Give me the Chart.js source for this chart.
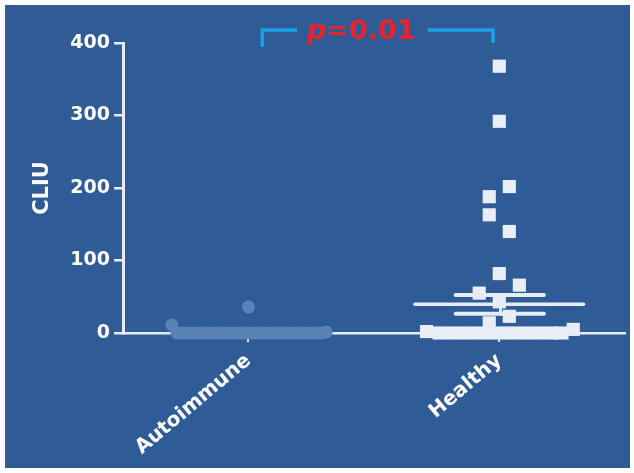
<!DOCTYPE html>
<html>
<head>
<meta charset="utf-8">
<script src="https://cdn.jsdelivr.net/npm/chart.js@4.4.1/dist/chart.umd.min.js"></script>
<style>
html,body{margin:0;padding:0;background:#fff;}
</style>
</head>
<body>
<canvas id="cliuChart" width="634" height="473"></canvas>
<script>
var categories = ['Autoimmune', 'Healthy'];
var yTicks = [0, 100, 200, 300, 400];

// Autoimmune group: CLIU values and horizontal spread inside the column
var autoValues = [11, 36,
    0, 0, 0, 0, 0, 0, 0, 0, 0, 0,
    0, 0, 0, 0, 0, 0, 0, 0, 0, 0,
    0, 0, 0, 0, 0, 0, 0, 0, 0, 0, 1.5];
var autoSpread = [-0.305, 0,
    -0.285, -0.265, -0.245, -0.225, -0.205, -0.185, -0.165, -0.145, -0.125, -0.105,
    -0.085, -0.065, -0.045, -0.025, -0.005, 0.015, 0.035, 0.055, 0.075, 0.095,
    0.115, 0.135, 0.155, 0.175, 0.195, 0.215, 0.235, 0.255, 0.275, 0.295, 0.31];

// Healthy group
var healthyValues = [368, 292, 202, 188, 163, 140, 82, 66, 55, 43, 23, 14,
    2, 0, 0, 0, 0, 0, 0, 0, 0, 0, 0, 0, 5];
var healthySpread = [0, 0, 0.04, -0.04, -0.04, 0.04, 0, 0.08, -0.08, 0, 0.04, -0.04,
    -0.29, -0.24, -0.19, -0.14, -0.09, -0.04, 0.01, 0.06, 0.11, 0.16, 0.21, 0.25, 0.295];

var healthyMean = 39.5;
var healthySem = 13;

var lineCol = '#e6ecf5';

function seg(x1, y1, x2, y2, w){
    return {
        type: 'scatter', showLine: true,
        data: [{x: x1, y: y1}, {x: x2, y: y2}],
        borderColor: lineCol, borderWidth: w, borderCapStyle: 'round',
        pointRadius: 0, clip: false
    };
}

var panelBg = {
    id: 'panelBg',
    beforeDraw: function(chart){
        var c = chart.ctx;
        c.save();
        c.fillStyle = '#ffffff';
        c.fillRect(0, 0, chart.width, chart.height);
        c.fillStyle = '#2f5c97';
        c.fillRect(5, 5, chart.width - 9, chart.height - 10);
        c.restore();
    }
};

// p value bracket above the plot
var pBracket = {
    id: 'pBracket',
    afterDraw: function(chart){
        var sx = chart.scales.x, sy = chart.scales.y, c = chart.ctx;
        var xl = sx.getPixelForValue(1.055), xr = sx.getPixelForValue(1.975);
        var yt = sy.getPixelForValue(418);
        var xm = sx.getPixelForValue(1.45);
        var yb = sy.getPixelForValue(406);
        c.save();
        c.font = 'italic bold 27px "DejaVu Sans"';
        var wp = c.measureText('p').width;
        c.font = 'bold 27px "DejaVu Sans"';
        var wr = c.measureText('=0.01').width;
        var x0 = xm - (wp + wr) / 2;
        c.fillStyle = '#e8242a';
        c.textBaseline = 'alphabetic';
        c.font = 'italic bold 27px "DejaVu Sans"';
        c.fillText('p', x0, yb);
        c.font = 'bold 27px "DejaVu Sans"';
        c.fillText('=0.01', x0 + wp, yb);

        c.strokeStyle = '#1ba2e6';
        c.lineWidth = 3.5;
        c.beginPath();
        c.moveTo(xl, sy.getPixelForValue(395));
        c.lineTo(xl, yt);
        c.lineTo(x0 - 10, yt);
        c.moveTo(x0 + wp + wr + 12, yt);
        c.lineTo(xr, yt);
        c.lineTo(xr, sy.getPixelForValue(400));
        c.stroke();
        c.restore();
    }
};

var ctx = document.getElementById('cliuChart').getContext('2d');
var cliuChart = new Chart(ctx, {
    type: 'scatter',
    data: {
        datasets: [
            seg(2 - 0.336, healthyMean, 2 + 0.336, healthyMean, 3.5),
            seg(2 - 0.174, healthyMean + healthySem, 2 + 0.178, healthyMean + healthySem, 4),
            seg(2 - 0.174, healthyMean - healthySem, 2 + 0.178, healthyMean - healthySem, 4),
            seg(2.005, healthyMean - healthySem, 2.005, healthyMean + healthySem, 3),
            {
                data: autoValues.map(function(v, i){ return {x: 1 + autoSpread[i], y: v}; }),
                pointStyle: 'circle', pointRadius: 6.5,
                backgroundColor: '#5a82b5', borderWidth: 0, clip: false
            },
            {
                data: healthyValues.map(function(v, i){ return {x: 2 + healthySpread[i], y: v}; }),
                pointStyle: 'rect', pointRadius: 9.3,
                backgroundColor: '#e9eef6', borderWidth: 0, clip: false
            }
        ]
    },
    options: {
        responsive: false,
        animation: false,
        events: [],
        layout: { padding: { top: 43, right: 5, left: 0, bottom: 0 } },
        plugins: { legend: { display: false }, tooltip: { enabled: false } },
        scales: {
            x: {
                type: 'linear', min: 0.5, max: 2.5,
                afterBuildTicks: function(s){ s.ticks = [{value: 1}, {value: 2}]; },
                afterFit: function(s){ s.height = 140; },
                grid: { drawOnChartArea: false, tickLength: 9, color: lineCol, lineWidth: 2 },
                border: { color: lineCol, width: 2.5 },
                ticks: {
                    autoSkip: false, minRotation: 40, maxRotation: 40, padding: 7,
                    color: '#ffffff',
                    font: { family: 'DejaVu Sans', size: 20, weight: 'bold' },
                    callback: function(v){ return categories[v - 1] || ''; }
                }
            },
            y: {
                min: 0, max: 400,
                afterBuildTicks: function(s){ s.ticks = yTicks.map(function(v){ return {value: v}; }); },
                afterFit: function(s){ s.width = 123; },
                grid: { drawOnChartArea: false, tickLength: 9, color: lineCol, lineWidth: 2.5 },
                border: { color: lineCol, width: 3 },
                ticks: {
                    padding: 4, color: '#ffffff',
                    font: { family: 'DejaVu Sans', size: 19, weight: 'bold' }
                },
                title: {
                    display: true, text: 'CLIU', color: '#ffffff',
                    font: { family: 'DejaVu Sans', size: 21, weight: 'bold' },
                    padding: { top: 30, bottom: 0 }
                }
            }
        }
    },
    plugins: [panelBg, pBracket]
});
</script>
</body>
</html>
